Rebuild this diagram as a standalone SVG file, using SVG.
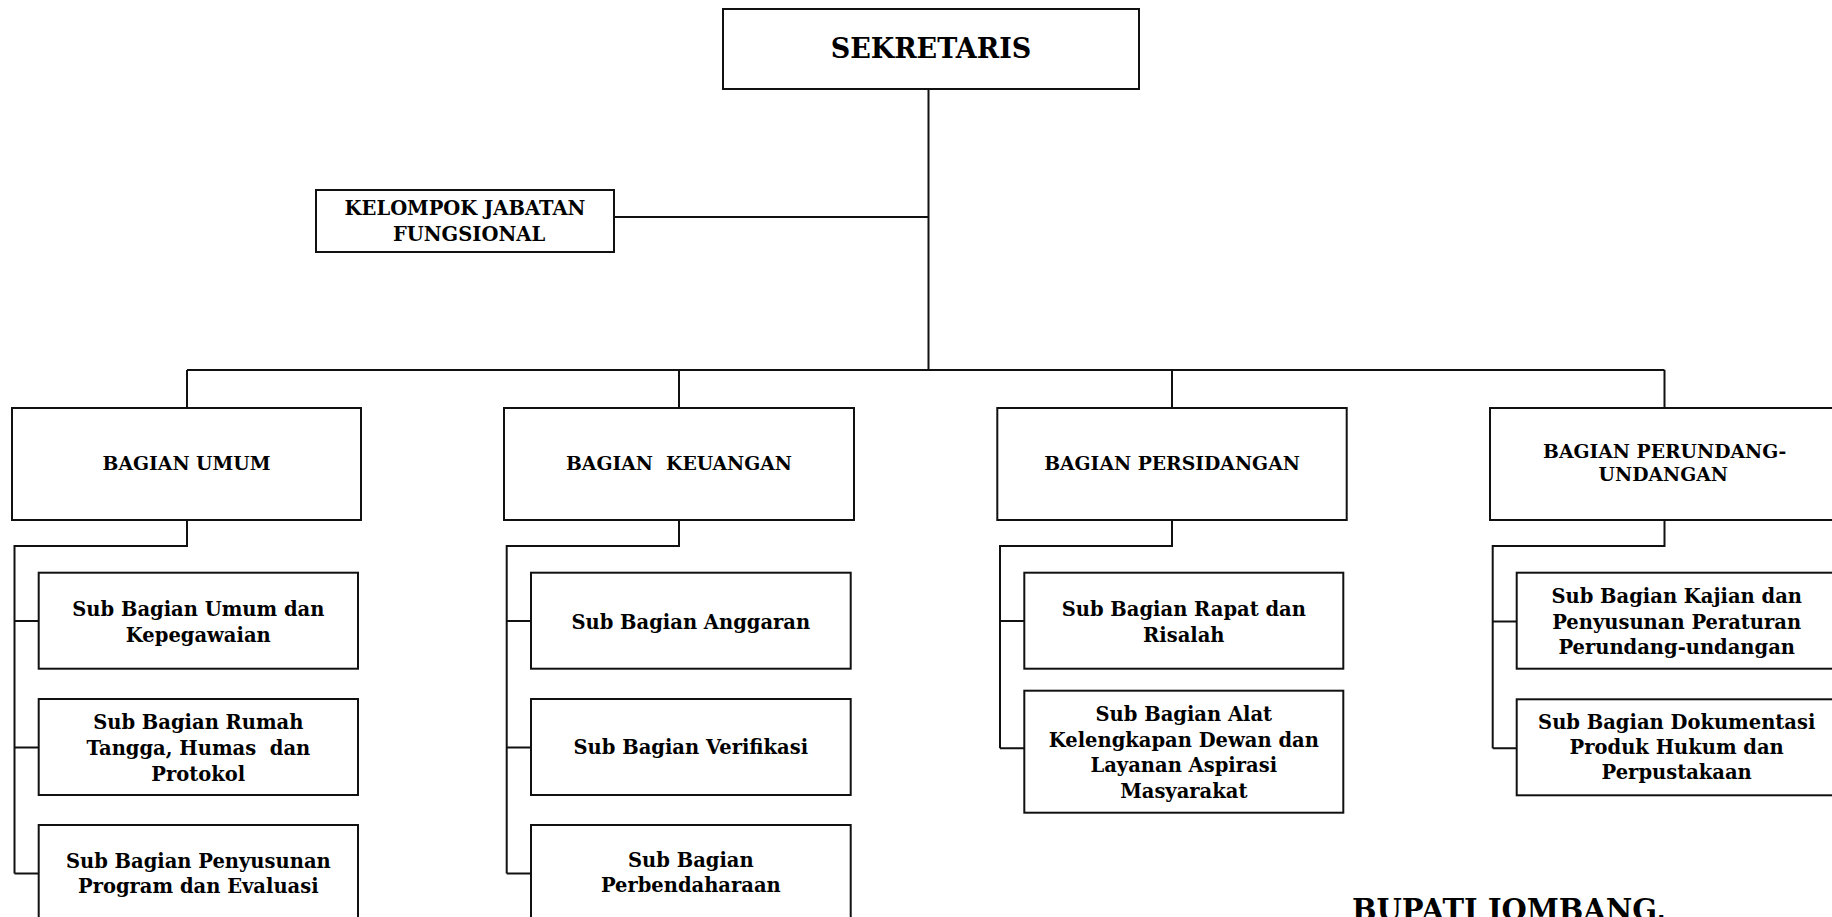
<svg xmlns="http://www.w3.org/2000/svg" width="1832" height="917" viewBox="0 0 1832 917">
<style>
  .box { fill: #fff; stroke: #111; stroke-width: 2; }
  .ln { fill: none; stroke: #111; stroke-width: 2; }
  text { font-family: "DejaVu Serif", "Liberation Serif", serif; font-weight: bold; fill: #000; text-anchor: middle; }
  .t1 { font-size: 27px; }
  .t2 { font-size: 19.5px; }
  .t3 { font-size: 18.8px; }
  .t4 { font-size: 19.5px; }
  .t5 { font-size: 29px; text-anchor: start; }
</style>
<rect width="1832" height="917" fill="#fff"/>
<g id="connectors">
  <path class="ln" d="M928.5 89 V370"/>
  <path class="ln" d="M614 217 H928.5"/>
  <path class="ln" d="M187 370 H1664.5"/>
  <path class="ln" d="M187 370 V408 M679 370 V408 M1172 370 V408 M1664.5 370 V408"/>
  <path class="ln" d="M187 520 V546 H14.5 V873.5 M14.5 621 H38.7 M14.5 747.5 H38.7 M14.5 873.5 H38.7"/>
  <path class="ln" d="M679 520 V546 H506.7 V873.5 M506.7 621 H531 M506.7 747.5 H531 M506.7 873.5 H531"/>
  <path class="ln" d="M1172 520 V546 H1000 V748.3 M1000 621 H1024.3 M1000 748.3 H1024.3"/>
  <path class="ln" d="M1664.5 520 V546 H1492.7 V748.3 M1492.7 621.5 H1516.7 M1492.7 748.3 H1516.7"/>
</g>
<g id="sekretaris">
  <rect class="box" x="723" y="9" width="416" height="80"/>
  <text class="t1" x="931" y="57.5">SEKRETARIS</text>
</g>
<g id="kelompok">
  <rect class="box" x="316" y="190" width="298" height="62"/>
  <text class="t2" x="465" y="215">KELOMPOK JABATAN</text>
  <text class="t2" x="469" y="240.5">FUNGSIONAL</text>
</g>
<g id="bagian-umum">
  <rect class="box" x="12" y="408" width="349" height="112"/>
  <text class="t3" x="186.5" y="470">BAGIAN UMUM</text>
</g>
<g id="bagian-keuangan">
  <rect class="box" x="504" y="408" width="350" height="112"/>
  <text class="t3" x="679" y="470" xml:space="preserve">BAGIAN  KEUANGAN</text>
</g>
<g id="bagian-persidangan">
  <rect class="box" x="997.3" y="408" width="349.4" height="112"/>
  <text class="t3" x="1172" y="470">BAGIAN PERSIDANGAN</text>
</g>
<g id="bagian-perundangan">
  <rect class="box" x="1490" y="408" width="349" height="112"/>
  <text class="t3" x="1664.7" y="458.3">BAGIAN PERUNDANG-</text>
  <text class="t3" x="1663.3" y="480.7">UNDANGAN</text>
</g>
<g id="sub-umum-kepegawaian">
  <rect class="box" x="38.7" y="572.7" width="319.3" height="96"/>
  <text class="t4" x="198.3" y="616">Sub Bagian Umum dan</text>
  <text class="t4" x="198.3" y="641.7">Kepegawaian</text>
</g>
<g id="sub-rumah-tangga">
  <rect class="box" x="38.7" y="699" width="319.3" height="96"/>
  <text class="t4" x="198.3" y="729" xml:space="preserve">Sub Bagian Rumah</text>
  <text class="t4" x="198.3" y="755" xml:space="preserve">Tangga, Humas  dan</text>
  <text class="t4" x="198.3" y="780.7">Protokol</text>
</g>
<g id="sub-penyusunan-program">
  <rect class="box" x="38.7" y="825" width="319.3" height="96"/>
  <text class="t4" x="198.3" y="868.3">Sub Bagian Penyusunan</text>
  <text class="t4" x="198.3" y="892.7">Program dan Evaluasi</text>
</g>
<g id="sub-anggaran">
  <rect class="box" x="531" y="572.7" width="319.7" height="96"/>
  <text class="t4" x="690.8" y="629.3">Sub Bagian Anggaran</text>
</g>
<g id="sub-verifikasi">
  <rect class="box" x="531" y="699" width="319.7" height="96"/>
  <text class="t4" x="690.8" y="754.3">Sub Bagian Verifikasi</text>
</g>
<g id="sub-perbendaharaan">
  <rect class="box" x="531" y="825" width="319.7" height="96"/>
  <text class="t4" x="690.8" y="867.3">Sub Bagian</text>
  <text class="t4" x="690.8" y="892.3">Perbendaharaan</text>
</g>
<g id="sub-rapat-risalah">
  <rect class="box" x="1024.3" y="572.7" width="319" height="96"/>
  <text class="t4" x="1183.8" y="616">Sub Bagian Rapat dan</text>
  <text class="t4" x="1183.8" y="641.7">Risalah</text>
</g>
<g id="sub-alat-kelengkapan">
  <rect class="box" x="1024.3" y="690.7" width="319" height="122"/>
  <text class="t4" x="1183.8" y="721">Sub Bagian Alat</text>
  <text class="t4" x="1183.8" y="746.7">Kelengkapan Dewan dan</text>
  <text class="t4" x="1183.8" y="771.7">Layanan Aspirasi</text>
  <text class="t4" x="1183.8" y="797.7">Masyarakat</text>
</g>
<g id="sub-kajian">
  <rect class="box" x="1516.7" y="572.7" width="320" height="96"/>
  <text class="t4" x="1676.7" y="603.3">Sub Bagian Kajian dan</text>
  <text class="t4" x="1676.7" y="629">Penyusunan Peraturan</text>
  <text class="t4" x="1676.7" y="654.3">Perundang-undangan</text>
</g>
<g id="sub-dokumentasi">
  <rect class="box" x="1516.7" y="699.3" width="320" height="96"/>
  <text class="t4" x="1676.7" y="729.3">Sub Bagian Dokumentasi</text>
  <text class="t4" x="1676.7" y="754.3">Produk Hukum dan</text>
  <text class="t4" x="1676.7" y="779.3">Perpustakaan</text>
</g>
<g id="signature">
  <text class="t5" x="1352" y="920">BUPATI JOMBANG,</text>
</g>
</svg>
